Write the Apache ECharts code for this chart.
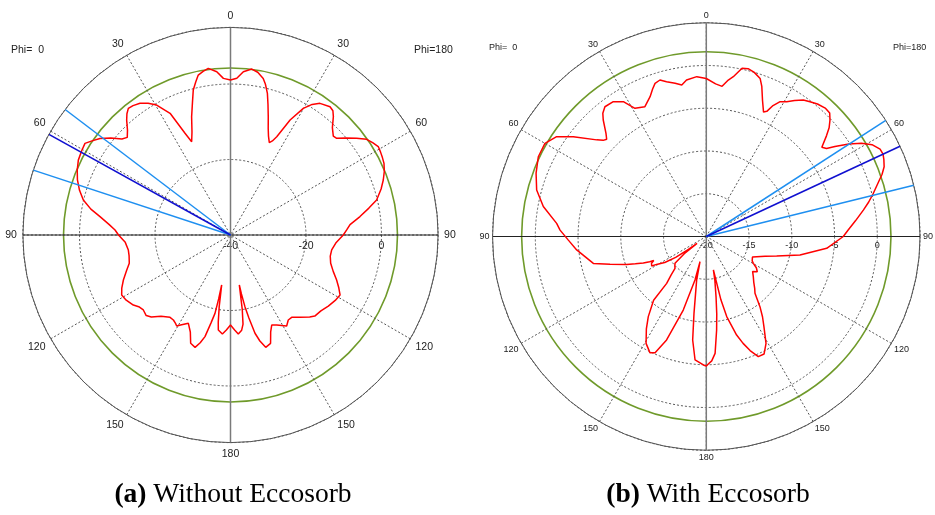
<!DOCTYPE html>
<html>
<head>
<meta charset="utf-8">
<title>Farfield directivity cuts</title>
<script src="https://cdn.jsdelivr.net/npm/echarts@6/dist/echarts.min.js"></script>
<style>
  html, body { margin: 0; padding: 0; background: #ffffff; }
  #chart { width: 935px; height: 515px; }
</style>
</head>
<body>
<div id="chart"></div>
<script>
// ---- (a) without absorber: theta (deg) and gain (dB) on each half-plane ----
const thetaA_phi180 = [0,2.3,4.5,7.3,9.5,11.8,13,14.6,16,17.7,19.5,21,22.8,24,25.2,27.4,29.9,32,34.2,37.8,39.5,41,43.5,46.1,47.7,50,52.5,54.9,57,59.1,61,63,65,67.5,70.2,73,76.5,79,81.9,85,87.5,90,94,98.4,102,105.8,109.5,113,116,118.7,122,126,130,133.9,136,139.8,143.4,145.8,148.3,150.5,152.8,155.4,157.5,159.7,162.6,164.5,166,167.5,168.6,169.5,170,171,172,173.3,175.5,177.5,180];
const gainA_phi180 = [1.06,1.54,3.4,4.32,3.71,2.38,1.06,-1.22,-3.97,-7.10,-10.07,-11.92,-13.46,-12.72,-11.23,-5.70,-1.30,0.79,2.17,3.02,2.65,1.54,-0.79,-2.20,-1.96,0.0,2.12,4.08,4.90,5.62,5.43,5.17,4.87,4.11,3.02,1.72,-0.19,-2.65,-5.35,-8.21,-9.19,-10.12,-11.92,-12.90,-12.98,-12.42,-11.13,-9.46,-8.08,-6.91,-7.28,-7.97,-8.74,-9.01,-9.80,-11.47,-12.82,-12.77,-11.68,-12.45,-13.19,-13.77,-12.19,-9.40,-8.82,-10.86,-13.17,-17.48,-20.64,-24.11,-26.54,-20.13,-16.16,-14.62,-13.70,-14.83,-16.16];
const thetaA_phi0 = [0,2.6,4.8,7.6,9.5,11.4,12.8,14.4,16,18.2,20.5,22.6,24.1,26.4,29.6,32,34.5,37,38.9,40.5,42.1,44.5,46.6,48.5,51,53.5,55.8,57.8,60.5,63.8,67,70.2,73.5,76.6,79.5,82,85,87.5,90,94,98.4,101.5,105.6,109,112.8,116,118.9,122,125.8,128,130.7,133.7,136,139.5,143.7,146.1,148,149.4,151,154.5,157.5,159.8,162.5,164.3,165.9,167.5,168.8,169.5,170,171,172,172.7,175.3,177.5,180];
const gainA_phi0 = [1.06,1.54,3.4,4.53,3.97,3.23,1.59,-0.34,-3.44,-7.02,-10.86,-13.22,-10.49,-4.0,-0.40,1.19,2.33,2.91,3.10,2.25,1.03,-1.06,-2.36,-1.59,0.79,3.02,4.37,5.56,5.30,4.93,4.11,3.10,1.72,0.08,-2.38,-5.09,-7.68,-9.38,-10.33,-12.05,-12.64,-12.58,-12.16,-10.86,-9.22,-7.95,-7.07,-7.42,-8.26,-9.14,-9.54,-9.11,-9.80,-11.66,-12.93,-12.87,-12.45,-12.00,-12.72,-14.07,-12.19,-9.43,-8.79,-10.33,-12.24,-16.16,-18.83,-22.78,-26.54,-20.93,-16.69,-14.62,-13.70,-14.83,-16.16];

// ---- (b) with absorber ----
const thetaB_phi180 = [0,3.5,6,8,9.6,12,14,16.3,18.8,20.3,22.5,24.7,25.8,27,28.7,30.8,33,35.4,37.6,40,42.8,45,46.7,48.5,50,52.3,53.8,55,57,59,61,63.3,65,66.6,68.6,70.5,72.3,75.5,78,80.4,84,87.4,90,95.6,101.2,105.5,108.5,111.8,114,116.2,118,119.7,122,124.6,127,130.5,134,137,139.4,142.6,145,147.4,150.8,153.8,156.6,159,161,162.9,165.7,167,168,169,170.8,172.3,173.7,175.7,177.5,179.1,180];
const gainB_phi180 = [-1.52,-2.11,-2.34,-1.52,-1.05,0.12,0.23,0.0,-0.47,-1.29,-2.81,-3.98,-3.74,-2.81,-2.02,-1.64,-1.05,-0.41,-0.12,0.23,0.47,0.41,-0.12,-0.82,-1.64,-2.92,-2.57,-1.64,-0.12,1.17,2.16,2.75,2.81,2.63,2.34,1.81,1.17,0.18,-0.58,-1.35,-2.46,-3.39,-3.98,-5.85,-8.83,-11.46,-12.75,-13.65,-14.09,-14.22,-13.92,-13.67,-13.1,-12.75,-13.22,-12.77,-12.28,-11.70,-11.25,-9.67,-8.54,-7.49,-5.68,-4.69,-4.69,-5.71,-6.78,-7.94,-10.33,-12.40,-16.0,-14.74,-12.88,-10.88,-9.0,-6.29,-5.44,-5.09,-4.85];
const thetaB_phi0 = [0,3.4,7.2,9.2,11.5,14.4,16.5,18.5,20,21.9,25.3,29.1,31.6,34.6,38,40,41.5,44.2,45.7,47,48.6,53.1,56.3,60,64.6,69.6,74.7,79.6,85,87.5,91.5,95.9,103.4,106.1,109.3,111,112.8,114,114.5,116,118.4,119.3,122,124.2,125.5,126.5,128,130.6,133,135.5,137.5,139.8,140.4,144.1,147,150.6,154.1,156.2,159,162.6,165.4,166,167.5,170.9,172.5,174.8,178.7,180];
const gainB_phi0 = [-1.52,-1.27,-1.56,-2.05,-1.72,-1.31,-0.91,-1.11,-1.64,-2.37,-3.20,-2.84,-1.49,-0.84,-0.74,-1.17,-1.81,-3.17,-3.72,-3.51,-2.91,-0.55,1.04,1.79,1.75,1.24,0.57,-0.62,-2.43,-2.88,-3.86,-4.76,-6.42,-8.28,-10.13,-11.11,-12.01,-12.75,-13.25,-12.87,-12.74,-13.33,-14.27,-15.67,-17.43,-18.65,-16.73,-15.18,-14.97,-14.78,-13.92,-12.82,-10.33,-8.43,-7.13,-5.65,-4.90,-5.15,-7.04,-10.99,-14.75,-16.96,-14.78,-10.90,-7.79,-5.50,-4.97,-4.85];

// Main lobe magnitude (dB), main lobe direction and 3 dB beamwidth limits (theta, deg)
const mainLobeA = { level: 4.24, side: 'phi0', dir: 61, beam: [52.8, 71.8] };
const mainLobeB = { level: 1.6, side: 'phi180', dir: 65, beam: [57.1, 76.1] };

// Scale ranges and tick labels
const rangeA = { min: -40, max: 15, step: 20 };
const rangeB = { min: -20, max: 5, step: 5 };
const radiusLabelsA = [-40, -20, 0];
const radiusLabelsB = [-20, -15, -10, -5, 0];
const thetaLabels = [0, 30, 60, 90, 120, 150, 180];

// theta is measured from the zenith; phi=180 cut on the right, phi=0 cut on the left.
// The angle axis starts at 3 o'clock and runs clockwise.
function toAxisAngle(theta, side) {
  const a = side === 'phi180' ? theta - 90 : 270 - theta;
  return ((a % 360) + 360) % 360;
}
function cutData(th180, g180, th0, g0) {
  const pts = [];
  for (let i = 0; i < th180.length; i++) pts.push([g180[i], toAxisAngle(th180[i], 'phi180')]);
  for (let i = th0.length - 1; i >= 0; i--) pts.push([g0[i], toAxisAngle(th0[i], 'phi0')]);
  return pts;
}
function ray(range, theta, side) {
  const a = toAxisAngle(theta, side);
  return [[range.min, a], [range.max, a]];
}

const FONT = "'Liberation Sans', Arial, sans-serif";
const SERIF = "'Liberation Serif', 'Times New Roman', serif";

function mainAngleAxis(idx, fontSize, margin) {
  return {
    polarIndex: idx, type: 'value', min: 0, max: 360, interval: 30,
    startAngle: 0, clockwise: true,
    axisLine: { show: true, lineStyle: { color: '#555', width: 1 } },
    axisTick: { show: false },
    axisLabel: {
      show: true, margin: margin, color: '#222', fontSize: fontSize, fontFamily: FONT,
      formatter: v => {
        const t = (v + 90) % 360;
        const s = t <= 180 ? t : 360 - t;
        return thetaLabels.indexOf(s) >= 0 ? String(s) : '';
      }
    },
    splitLine: { show: true, lineStyle: { color: '#555', width: 1, type: [2, 2] } }
  };
}
// radius labels sit just below the horizontal axis (negative margin flips the side)
function mainRadiusAxis(idx, range, labels, fontSize, margin) {
  return {
    polarIndex: idx, type: 'value', min: range.min, max: range.max, interval: range.step,
    axisLine: { show: false }, axisTick: { show: false },
    axisLabel: {
      show: true, color: '#222', fontSize: fontSize, fontFamily: FONT, margin: margin,
      formatter: v => labels.indexOf(v) >= 0 ? String(v) : ''
    },
    splitLine: { show: true, lineStyle: { color: '#555', width: 1, type: [2, 2] } }
  };
}
function levelAngleAxis(idx) {
  return { polarIndex: idx, type: 'value', min: 0, max: 360, startAngle: 0, show: false };
}
function levelRadiusAxis(idx, range, level) {
  return {
    polarIndex: idx, type: 'value', min: range.min, max: range.max,
    axisLine: { show: false }, axisLabel: { show: false },
    axisTick: { show: false, customValues: [level] },
    splitLine: { show: true, lineStyle: { color: '#6f9a2a', width: 1.6, type: 'solid' } }
  };
}

function crossSeries(idx, range) {
  return [
    { type: 'line', coordinateSystem: 'polar', polarIndex: idx, symbol: 'none', silent: true, z: 2,
      lineStyle: { color: '#7a7a7a', width: 1.5 },
      data: [[range.max, toAxisAngle(0, 'phi0')], [range.min, toAxisAngle(0, 'phi0')], [range.max, toAxisAngle(180, 'phi0')]] },
    { type: 'line', coordinateSystem: 'polar', polarIndex: idx, symbol: 'none', silent: true, z: 2,
      lineStyle: { color: '#222', width: 1.2 },
      data: [[range.max, toAxisAngle(90, 'phi180')], [range.min, toAxisAngle(90, 'phi180')], [range.max, toAxisAngle(90, 'phi0')]] }
  ];
}
function beamSeries(idx, range, lobe) {
  return [
    { type: 'line', coordinateSystem: 'polar', polarIndex: idx, symbol: 'none', silent: true, z: 4,
      lineStyle: { color: '#1e8ff0', width: 1.5 }, data: ray(range, lobe.beam[0], lobe.side) },
    { type: 'line', coordinateSystem: 'polar', polarIndex: idx, symbol: 'none', silent: true, z: 4,
      lineStyle: { color: '#1e8ff0', width: 1.5 }, data: ray(range, lobe.beam[1], lobe.side) },
    { type: 'line', coordinateSystem: 'polar', polarIndex: idx, symbol: 'none', silent: true, z: 5,
      lineStyle: { color: '#1010d0', width: 1.6 }, data: ray(range, lobe.dir, lobe.side) }
  ];
}
function cutSeries(idx, data) {
  return { type: 'line', coordinateSystem: 'polar', polarIndex: idx, symbol: 'none', silent: true, z: 3,
    lineStyle: { color: '#ff0000', width: 1.5 }, data: data };
}

const centerA = [230.5, 235], radA = 207.6;
const centerB = [706.3, 236.5], radB = 213.75;

const option = {
  animation: false,
  backgroundColor: '#ffffff',
  polar: [
    { center: centerA, radius: [0, radA] },
    { center: centerA, radius: [0, radA] },
    { center: centerB, radius: [0, radB] },
    { center: centerB, radius: [0, radB] }
  ],
  angleAxis: [mainAngleAxis(0, 10.5, 6), levelAngleAxis(1), mainAngleAxis(2, 9, 3), levelAngleAxis(3)],
  radiusAxis: [
    mainRadiusAxis(0, rangeA, radiusLabelsA, 10.5, -17),
    levelRadiusAxis(1, rangeA, mainLobeA.level),
    mainRadiusAxis(2, rangeB, radiusLabelsB, 9, -14),
    levelRadiusAxis(3, rangeB, mainLobeB.level)
  ],
  title: [
    { text: 'Phi=  0', left: 11, top: 45, padding: 0, textStyle: { fontSize: 10.5, fontWeight: 'normal', color: '#222', fontFamily: FONT } },
    { text: 'Phi=180', left: 414, top: 45, padding: 0, textStyle: { fontSize: 10.5, fontWeight: 'normal', color: '#222', fontFamily: FONT } },
    { text: 'Phi=  0', left: 489, top: 43, padding: 0, textStyle: { fontSize: 9, fontWeight: 'normal', color: '#222', fontFamily: FONT } },
    { text: 'Phi=180', left: 893, top: 43, padding: 0, textStyle: { fontSize: 9, fontWeight: 'normal', color: '#222', fontFamily: FONT } },
    { text: '{b|(a)} Without Eccosorb', left: 233, top: 481, padding: 0, textAlign: 'center',
      textStyle: { fontSize: 27.5, fontWeight: 'normal', color: '#000', fontFamily: SERIF,
        rich: { b: { fontSize: 27.5, fontWeight: 'bold', fontFamily: SERIF, color: '#000' } } } },
    { text: '{b|(b)} With Eccosorb', left: 708, top: 481, padding: 0, textAlign: 'center',
      textStyle: { fontSize: 27.5, fontWeight: 'normal', color: '#000', fontFamily: SERIF,
        rich: { b: { fontSize: 27.5, fontWeight: 'bold', fontFamily: SERIF, color: '#000' } } } }
  ],
  series: [
    ...crossSeries(0, rangeA),
    cutSeries(0, cutData(thetaA_phi180, gainA_phi180, thetaA_phi0, gainA_phi0)),
    ...beamSeries(0, rangeA, mainLobeA),
    ...crossSeries(2, rangeB),
    cutSeries(2, cutData(thetaB_phi180, gainB_phi180, thetaB_phi0, gainB_phi0)),
    ...beamSeries(2, rangeB, mainLobeB)
  ]
};

const chart = echarts.init(document.getElementById('chart'), null, { renderer: 'canvas' });
chart.setOption(option);
</script>
</body>
</html>
